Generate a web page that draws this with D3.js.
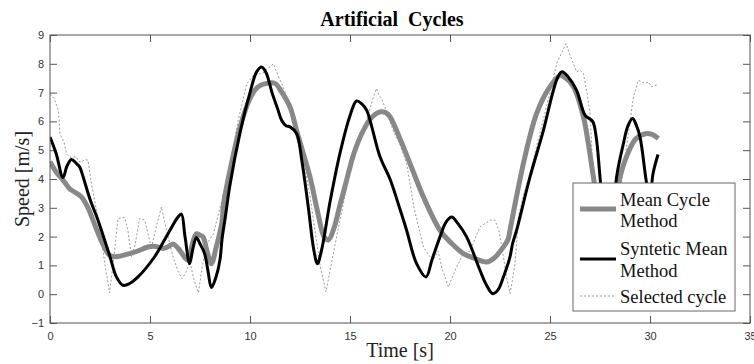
<!DOCTYPE html>
<html>
<head>
<meta charset="utf-8">
<script src="https://cdn.jsdelivr.net/npm/d3@7"></script>
<style>
  body { margin: 0; background: #fff; }
  svg { display: block; }
</style>
</head>
<body>
<script>
// Données (temps en s, vitesse en m/s)
const xTicks = [0, 5, 10, 15, 20, 25, 30, 35]
const yTicks = [-1, 0, 1, 2, 3, 4, 5, 6, 7, 8, 9]

const meanT = [0, 0.3, 0.65, 1.0, 1.23, 1.57, 1.9, 2.3, 2.6, 2.98, 3.3, 3.98, 4.4, 4.9, 5.3, 5.65, 5.9, 6.15, 6.4, 6.9, 7.1, 7.32, 7.5, 7.65, 7.85, 8.07, 8.3, 8.6, 8.67, 9.0, 9.5, 10.0, 10.4, 10.83, 11.25, 11.6, 12.0, 12.33, 12.7, 13.0, 13.4, 13.7, 13.92, 14.2, 14.5, 14.83, 15.2, 15.67, 16.1, 16.5, 16.8, 17.0, 17.5, 18.0, 18.67, 19.5, 20.1, 20.67, 21.2, 21.83, 22.2, 22.67, 22.9, 23.0, 23.3, 23.67, 24.0, 24.33, 24.9, 25.5, 25.7, 26.17, 26.67, 26.9, 27.17, 27.5, 27.8, 28.1, 28.5, 28.9, 29.3, 29.83, 30.1, 30.42]
const meanV = [4.6, 4.25, 3.96, 3.65, 3.55, 3.38, 3.0, 2.3, 1.8, 1.35, 1.3, 1.41, 1.5, 1.64, 1.66, 1.59, 1.65, 1.74, 1.6, 1.18, 1.7, 2.1, 2.05, 1.99, 1.5, 1.06, 1.6, 2.5, 3.1, 4.3, 5.8, 6.8, 7.2, 7.32, 7.32, 7.0, 6.5, 5.69, 4.8, 4.07, 2.8, 2.0, 1.88, 2.3, 3.1, 3.96, 4.9, 5.69, 6.15, 6.33, 6.3, 6.16, 5.4, 4.54, 3.38, 2.22, 1.75, 1.41, 1.25, 1.12, 1.25, 1.64, 1.9, 2.22, 3.3, 4.54, 5.5, 6.27, 7.1, 7.6, 7.55, 7.2, 6.16, 5.3, 4.07, 2.6, 1.8, 2.6, 4.07, 4.9, 5.4, 5.58, 5.55, 5.41]

const synT = [0, 0.3, 0.65, 0.85, 1.07, 1.3, 1.48, 1.6, 2.0, 2.4, 3.0, 3.32, 3.65, 4.0, 4.4, 5.23, 5.9, 6.4, 6.57, 6.75, 6.98, 7.15, 7.32, 7.5, 7.73, 7.9, 8.07, 8.3, 8.5, 8.6, 8.75, 9.0, 9.5, 10.0, 10.33, 10.58, 10.8, 11.1, 11.4, 11.58, 11.8, 12.0, 12.33, 12.6, 12.9, 13.2, 13.37, 13.6, 14.0, 14.5, 15.0, 15.33, 15.6, 15.83, 16.5, 17.0, 17.5, 17.83, 18.33, 18.8, 19.1, 19.5, 19.8, 20.08, 20.4, 20.83, 21.5, 21.8, 22.13, 22.4, 22.67, 23.0, 23.13, 23.33, 24.0, 24.67, 25.17, 25.4, 25.6, 25.9, 26.33, 26.75, 27.13, 27.3, 27.5, 27.7, 27.95, 28.15, 28.33, 28.67, 28.9, 29.13, 29.3, 29.5, 29.83, 30.0, 30.15, 30.4]
const synV = [5.46, 4.9, 4.05, 4.45, 4.68, 4.55, 4.42, 4.2, 3.3, 2.57, 1.3, 0.6, 0.31, 0.38, 0.6, 1.3, 2.1, 2.68, 2.78, 2.0, 1.06, 1.6, 1.97, 1.75, 1.41, 0.8, 0.23, 0.6, 1.2, 1.9, 2.6, 3.8, 5.6, 7.0, 7.72, 7.89, 7.7, 7.0, 6.4, 6.04, 5.85, 5.81, 5.58, 4.6, 3.1, 1.5, 1.06, 1.6, 3.2, 4.9, 6.2, 6.71, 6.6, 6.39, 4.77, 4.0, 2.95, 2.22, 1.06, 0.6, 1.2, 1.99, 2.5, 2.68, 2.45, 1.99, 0.83, 0.35, 0.02, 0.15, 0.6, 1.3, 1.76, 2.22, 4.07, 5.69, 7.08, 7.55, 7.72, 7.55, 7.08, 6.22, 6.0, 5.5, 4.07, 2.5, 1.2, 2.5, 4.07, 5.23, 5.85, 6.1, 5.9, 5.46, 3.85, 3.3, 4.18, 4.85]

const selT = [0, 0.2, 0.42, 0.5, 0.58, 0.7, 0.82, 1.0, 1.32, 1.45, 1.57, 1.75, 1.9, 2.07, 2.3, 2.57, 2.8, 2.98, 3.15, 3.4, 3.73, 3.9, 4.07, 4.25, 4.48, 4.73, 4.9, 5.07, 5.3, 5.57, 5.8, 6.15, 6.4, 6.6, 6.75, 7.0, 7.2, 7.42, 7.6, 7.8, 8.17, 8.5, 8.8, 9.0, 9.4, 9.83, 10.25, 10.6, 11.0, 11.17, 11.4, 11.58, 12.0, 12.5, 13.0, 13.25, 13.5, 13.8, 14.05, 14.33, 14.8, 15.17, 15.5, 15.83, 16.17, 16.33, 16.45, 16.58, 16.83, 17.2, 17.5, 17.83, 18.2, 18.67, 19.0, 19.17, 19.4, 19.6, 19.92, 20.3, 20.67, 21.0, 21.5, 22.0, 22.25, 22.45, 22.67, 22.85, 23.0, 23.15, 23.25, 23.42, 23.7, 24.0, 24.5, 25.0, 25.33, 25.6, 25.8, 26.0, 26.33, 26.5, 26.67, 26.85, 27.0, 27.17, 27.5, 27.8, 28.1, 28.5, 28.92, 29.17, 29.42, 29.75, 29.92, 30.08, 30.33]
const selV = [6.95, 6.8, 6.39, 5.58, 5.44, 5.3, 4.88, 4.75, 4.77, 4.6, 4.59, 4.68, 4.65, 3.84, 3.0, 1.88, 0.8, 0.05, 1.0, 2.63, 2.66, 2.2, 1.3, 1.7, 2.63, 2.57, 2.1, 1.59, 2.3, 3.03, 2.3, 1.3, 0.8, 0.54, 0.7, 1.12, 0.5, 0.05, 0.9, 1.7, 2.1, 3.0, 3.7, 4.5, 6.0, 7.3, 7.66, 7.65, 7.9, 8.0, 7.6, 7.32, 6.6, 5.4, 3.4, 2.22, 1.0, 0.08, 1.0, 1.99, 3.6, 4.77, 5.5, 6.04, 6.85, 7.14, 6.9, 6.8, 6.33, 5.6, 5.2, 4.54, 3.0, 1.64, 1.3, 1.18, 1.5, 0.9, 0.25, 0.9, 1.41, 1.5, 2.34, 2.57, 2.57, 2.2, 1.3, 0.5, 0.02, 0.6, 1.06, 2.68, 3.5, 4.2, 5.6, 7.0, 8.0, 8.4, 8.7, 8.3, 7.72, 7.78, 7.66, 7.0, 6.27, 4.07, 2.5, 1.2, 1.5, 3.5, 5.58, 6.85, 7.43, 7.32, 7.37, 7.2, 7.26]

const W = 754, H = 364
const mLeft = 50, mRight = 750, mTop = 35, mBottom = 323

const svg = d3.select('body')
  .append('svg')
  .attr('width', W)
  .attr('height', H)

const x = d3.scaleLinear().domain([0, 35]).range([mLeft, mRight])
const y = d3.scaleLinear().domain([-1, 9]).range([mBottom, mTop])

svg.append('clipPath').attr('id', 'clip')
  .append('rect')
  .attr('x', mLeft).attr('y', mTop)
  .attr('width', mRight - mLeft).attr('height', mBottom - mTop)

// Axes (ticks vers l'intérieur)
const axisColor = '#555'
const gx = svg.append('g')
  .attr('transform', `translate(0,${mBottom})`)
  .call(d3.axisBottom(x).tickValues(xTicks).tickSizeInner(-7).tickSizeOuter(0).tickPadding(9))
const gxt = svg.append('g')
  .attr('transform', `translate(0,${mTop})`)
  .call(d3.axisTop(x).tickValues(xTicks).tickSizeInner(-7).tickSizeOuter(0).tickFormat(''))
const gy = svg.append('g')
  .attr('transform', `translate(${mLeft},0)`)
  .call(d3.axisLeft(y).tickValues(yTicks).tickSizeInner(-7).tickSizeOuter(0).tickPadding(6))
const gyr = svg.append('g')
  .attr('transform', `translate(${mRight},0)`)
  .call(d3.axisRight(y).tickValues(yTicks).tickSizeInner(-7).tickSizeOuter(0).tickFormat(''))

for (const g of [gx, gxt, gy, gyr]) {
  g.select('.domain').remove()
  g.selectAll('line').attr('stroke', axisColor)
  g.selectAll('text')
    .attr('fill', '#333')
    .attr('font-family', 'Liberation Sans, Arial, sans-serif')
    .attr('font-size', 11)
}

// Courbes
const series = [
  { t: selT, v: selV, color: '#999', width: 1, dash: '2,2', curve: d3.curveLinear },
  { t: meanT, v: meanV, color: '#888', width: 5, dash: null, curve: d3.curveCatmullRom.alpha(0.5) },
  { t: synT, v: synV, color: '#000', width: 3, dash: null, curve: d3.curveCatmullRom.alpha(0.5) }
]

const plot = svg.append('g').attr('clip-path', 'url(#clip)')
series.forEach(s => {
  const line = d3.line()
    .x(i => x(s.t[i]))
    .y(i => y(s.v[i]))
    .curve(s.curve)
  plot.append('path')
    .datum(d3.range(s.t.length))
    .attr('d', line)
    .attr('fill', 'none')
    .attr('stroke', s.color)
    .attr('stroke-width', s.width)
    .attr('stroke-dasharray', s.dash)
    .attr('stroke-linejoin', 'round')
})

// Cadre
svg.append('rect')
  .attr('x', mLeft).attr('y', mTop)
  .attr('width', mRight - mLeft).attr('height', mBottom - mTop)
  .attr('fill', 'none')
  .attr('stroke', axisColor)

// Titres
const serif = 'Liberation Serif, Times New Roman, serif'
svg.append('text')
  .text('Artificial\u00a0 Cycles')
  .attr('x', 392).attr('y', 26)
  .attr('text-anchor', 'middle')
  .attr('font-family', serif)
  .attr('font-weight', 'bold')
  .attr('font-size', 20)

svg.append('text')
  .text('Time [s]')
  .attr('x', 400).attr('y', 357)
  .attr('text-anchor', 'middle')
  .attr('font-family', serif)
  .attr('font-size', 20)
  .attr('fill', '#222')

svg.append('text')
  .text('Speed [m/s]')
  .attr('transform', 'translate(29,179) rotate(-90)')
  .attr('text-anchor', 'middle')
  .attr('font-family', serif)
  .attr('font-size', 20)
  .attr('fill', '#222')

// Légende
const leg = svg.append('g')
leg.append('rect')
  .attr('x', 573).attr('y', 183)
  .attr('width', 162).attr('height', 128)
  .attr('fill', '#fff')
  .attr('stroke', '#666')

const legItems = [
  { lines: ['Mean Cycle', 'Method'], ly: 209, s: series[1] },
  { lines: ['Syntetic Mean', 'Method'], ly: 259, s: series[2] },
  { lines: ['Selected cycle'], ly: 296, s: series[0] }
]
const legBase = [[206, 227], [255, 277], [303]]
legItems.forEach((it, k) => {
  leg.append('line')
    .attr('x1', 580).attr('x2', 616)
    .attr('y1', it.ly).attr('y2', it.ly)
    .attr('stroke', it.s.color)
    .attr('stroke-width', it.s.width)
    .attr('stroke-dasharray', it.s.dash)
  it.lines.forEach((txt, j) => {
    leg.append('text')
      .text(txt)
      .attr('x', 620).attr('y', legBase[k][j])
      .attr('font-family', serif)
      .attr('font-size', 18.5)
      .attr('fill', '#111')
  })
})
</script>
</body>
</html>
